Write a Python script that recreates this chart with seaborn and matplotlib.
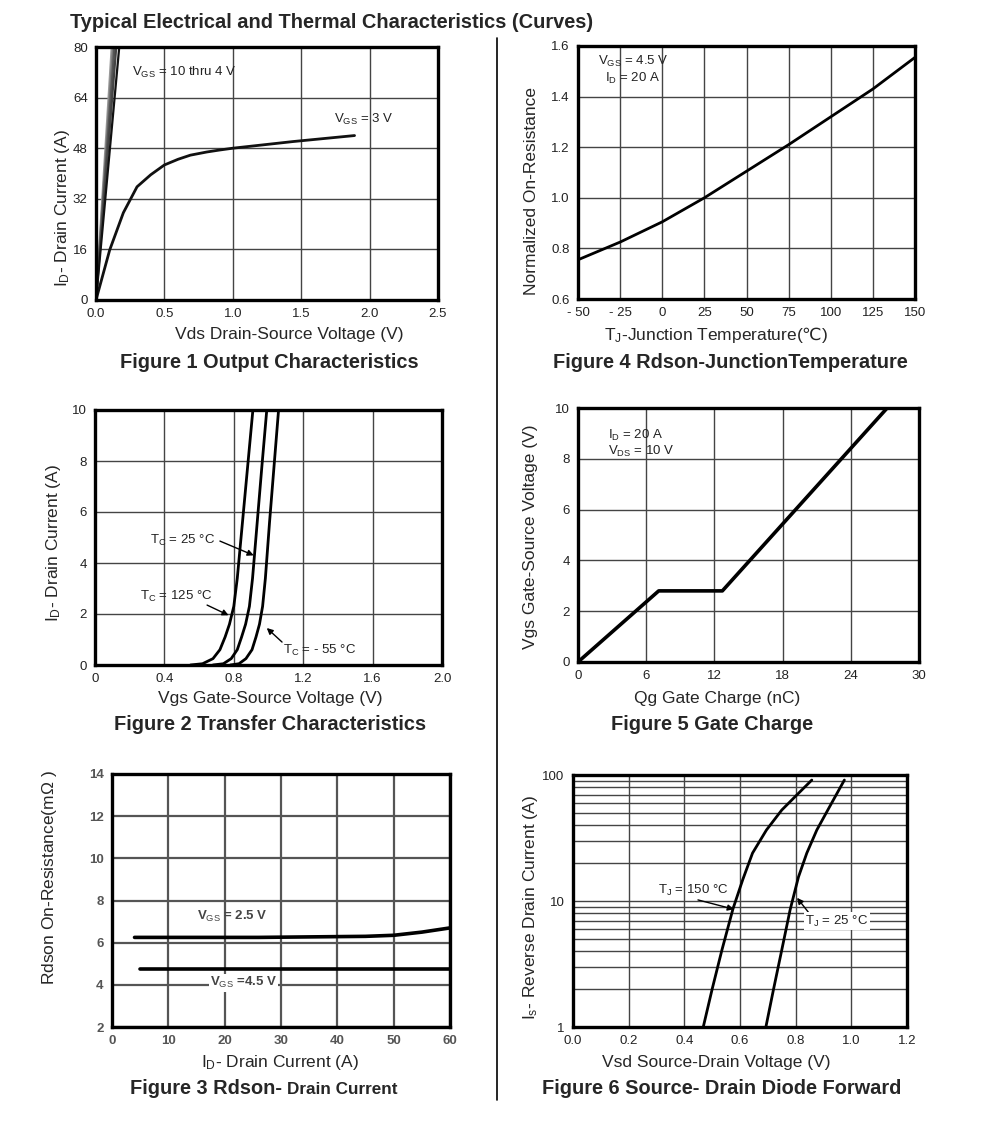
import numpy as np
import pandas as pd
import seaborn as sns
import matplotlib.pyplot as plt
from matplotlib.lines import Line2D
from matplotlib.ticker import FixedLocator, LogLocator, NullFormatter

#_____ data
# fig 1 output characteristics
vds_3v = [0.0, 0.1, 0.2, 0.3, 0.4, 0.5, 0.6, 0.69, 0.81, 0.9, 1.0, 1.44, 1.89]
id_3v = [0.0, 15.8, 27.6, 35.8, 39.6, 42.7, 44.5, 45.8, 46.8, 47.4, 48.0, 50.1, 52.0]
vds_hi_top = [0.115, 0.125, 0.135, 0.148, 0.17]   # vds where VGS 10..4 V lines hit 80 A
id_hi = [0, 80]

# fig 4 rdson vs junction temperature
tj = [-50, -25, 0, 25, 50, 75, 100, 125, 150]
rds_norm = [0.755, 0.825, 0.905, 1.0, 1.105, 1.21, 1.32, 1.43, 1.555]

# fig 2 transfer characteristics
vgs_125 = [0.55, 0.62, 0.68, 0.72, 0.75, 0.775, 0.80, 0.82, 0.85, 0.88, 0.91]
id_125 = [0.0, 0.05, 0.25, 0.6, 1.1, 1.6, 2.3, 3.4, 5.6, 7.8, 10.0]
vgs_25 = [0.68, 0.74, 0.785, 0.82, 0.845, 0.868, 0.89, 0.908, 0.935, 0.962, 0.99]
id_25 = [0.0, 0.05, 0.25, 0.6, 1.1, 1.6, 2.3, 3.4, 5.6, 7.8, 10.0]
vgs_m55 = [0.78, 0.83, 0.87, 0.905, 0.928, 0.948, 0.966, 0.982, 1.006, 1.032, 1.058]
id_m55 = [0.0, 0.05, 0.25, 0.6, 1.1, 1.6, 2.3, 3.4, 5.6, 7.8, 10.0]

# fig 5 gate charge
qg = [0, 7.1, 12.7, 27.2]
vgs_q = [0, 2.8, 2.8, 10]

# fig 3 rdson vs drain current
id_25v = [4, 26, 45, 50, 55, 60]
rds_25v = [6.25, 6.25, 6.3, 6.35, 6.5, 6.7]
id_45v = [5, 60]
rds_45v = [4.75, 4.75]

# fig 6 source-drain diode forward
vsd_150 = [0.468, 0.50, 0.535, 0.575, 0.61, 0.645, 0.695, 0.75, 0.804, 0.858]
is_150 = [1.0, 2.0, 4.08, 8.7, 14.8, 24.0, 36.6, 52.7, 69.4, 91.2]
vsd_25 = [0.693, 0.72, 0.75, 0.78, 0.81, 0.84, 0.876, 0.92, 0.975]
is_25 = [1.0, 1.97, 4.08, 8.5, 15.5, 24.0, 36.6, 55.0, 91.2]

sns.set_style('white')
plt.rcParams['font.family'] = ['Liberation Sans', 'DejaVu Sans']
plt.rcParams['mathtext.fontset'] = 'custom'
plt.rcParams['mathtext.rm'] = 'Liberation Sans'
plt.rcParams['mathtext.it'] = 'Liberation Sans:italic'
plt.rcParams['mathtext.bf'] = 'Liberation Sans:bold'
plt.rcParams['mathtext.sf'] = 'DejaVu Sans'

W, H = 991, 1138
fig = plt.figure(figsize=(W / 100, H / 100), dpi=100)

def box(l, t, r, b):
    return [l / W, 1 - b / H, (r - l) / W, (b - t) / H]

def style(ax, xt, yt, xl, yl, xlab, ylab, xlpos, ylpos, px, grid_c='#444', grid_w=1.0):
    ax.set_xlim(*xl)
    ax.set_ylim(*yl)
    ax.xaxis.set_major_locator(FixedLocator(xt[0]))
    ax.set_xticklabels(xt[1])
    ax.yaxis.set_major_locator(FixedLocator(yt[0]))
    ax.set_yticklabels(yt[1])
    ax.grid(True, which='major', color=grid_c, lw=grid_w)
    ax.tick_params(length=0, pad=6, labelsize=9.5, colors='#222')
    for s in ax.spines.values():
        s.set_color('black')
        s.set_linewidth(2.4)
    l, t, r, b = px
    ax.set_xlabel(xlab, fontsize=12.5, va='center')
    ax.xaxis.set_label_coords((xlpos[0] - l) / (r - l), (b - xlpos[1]) / (b - t))
    ax.set_ylabel(ylab, fontsize=12.5, va='center')
    ax.yaxis.set_label_coords((ylpos[0] - l) / (r - l), (b - ylpos[1]) / (b - t))
    ax.set_axisbelow(True)

arrow = dict(arrowstyle='-|>', color='black', lw=1.0, mutation_scale=9, shrinkA=0, shrinkB=0)
note = dict(fontsize=9.5, va='center', color='#222')

#_____ figure 1
p1 = (96, 47, 438, 300)
ax1 = fig.add_axes(box(*p1))
for xt, c in zip(vds_hi_top, ['#999', '#777', '#555', '#444', '#111']):
    sns.lineplot(x=[0, xt], y=id_hi, ax=ax1, color=c, lw=1.6)
sns.lineplot(x=vds_3v, y=id_3v, ax=ax1, color='#111', lw=2)
style(ax1, ([0, 0.5, 1, 1.5, 2, 2.5], ['0.0', '0.5', '1.0', '1.5', '2.0', '2.5']),
      ([0, 16, 32, 48, 64, 80], ['0', '16', '32', '48', '64', '80']),
      (0, 2.5), (0, 80), 'Vds Drain-Source Voltage (V)', 'I$_\\mathrm{D}$- Drain Current (A)',
      (289, 335), (62, 208), p1)
ax1.text(0.263, 71.8, 'V$_\\mathrm{GS}$ = 10 thru 4 V', **note)
ax1.text(1.74, 57.2, 'V$_\\mathrm{GS}$ = 3 V', **note)

#_____ figure 4
p4 = (578, 46, 915, 299)
ax4 = fig.add_axes(box(*p4))
sns.lineplot(x=tj, y=rds_norm, ax=ax4, color='black', lw=2)
style(ax4, ([-50, -25, 0, 25, 50, 75, 100, 125, 150],
            ['- 50', '- 25', '0', '25', '50', '75', '100', '125', '150']),
      ([0.6, 0.8, 1.0, 1.2, 1.4, 1.6], ['0.6', '0.8', '1.0', '1.2', '1.4', '1.6']),
      (-50, 150), (0.6, 1.6), 'T$_\\mathrm{J}$-Junction Temperature($\\mathsf{℃}$)',
      'Normalized On-Resistance', (716, 335), (531, 191), p4)
ax4.text(-17.4, 1.505, 'V$_\\mathrm{GS}$ = 4.5 V\nI$_\\mathrm{D}$ = 20 A', ha='center',
         multialignment='center', linespacing=1.1, **note)

#_____ figure 2
p2 = (95, 410, 442, 665)
ax2 = fig.add_axes(box(*p2))
for xs, ys in [(vgs_125, id_125), (vgs_25, id_25), (vgs_m55, id_m55)]:
    sns.lineplot(x=xs, y=ys, ax=ax2, color='black', lw=2)
style(ax2, ([0, 0.4, 0.8, 1.2, 1.6, 2.0], ['0', '0.4', '0.8', '1.2', '1.6', '2.0']),
      ([0, 2, 4, 6, 8, 10], ['0', '2', '4', '6', '8', '10']),
      (0, 2.0), (0, 10), 'Vgs Gate-Source Voltage (V)', 'I$_\\mathrm{D}$- Drain Current (A)',
      (270, 698), (54, 543), p2)
ax2.annotate('', xy=(0.915, 4.3), xytext=(0.72, 4.86), arrowprops=arrow)
ax2.text(0.317, 4.9, 'T$_\\mathrm{C}$ = 25 °C', **note)
ax2.annotate('', xy=(0.77, 1.95), xytext=(0.646, 2.35), arrowprops=arrow)
ax2.text(0.259, 2.67, 'T$_\\mathrm{C}$ = 125 °C', **note)
ax2.annotate('', xy=(0.99, 1.45), xytext=(1.078, 0.9), arrowprops=arrow)
ax2.text(1.084, 0.59, 'T$_\\mathrm{C}$ = - 55 °C', **note)

#_____ figure 5
p5 = (578, 408, 919, 662)
ax5 = fig.add_axes(box(*p5))
sns.lineplot(x=qg, y=vgs_q, ax=ax5, color='black', lw=2.6)
style(ax5, ([0, 6, 12, 18, 24, 30], ['0', '6', '12', '18', '24', '30']),
      ([0, 2, 4, 6, 8, 10], ['0', '2', '4', '6', '8', '10']),
      (0, 30), (0, 10), 'Qg Gate Charge (nC)', 'Vgs Gate-Source Voltage (V)',
      (717, 698), (531, 537), p5)
ax5.text(2.64, 8.62, 'I$_\\mathrm{D}$ = 20 A\nV$_\\mathrm{DS}$ = 10 V', linespacing=1.1, **note)

#_____ figure 3
p3 = (112, 774, 450, 1027)
ax3 = fig.add_axes(box(*p3))
sns.lineplot(x=id_25v, y=rds_25v, ax=ax3, color='black', lw=2.6)
sns.lineplot(x=id_45v, y=rds_45v, ax=ax3, color='black', lw=2.6)
style(ax3, ([0, 10, 20, 30, 40, 50, 60], ['0', '10', '20', '30', '40', '50', '60']),
      ([2, 4, 6, 8, 10, 12, 14], ['2', '4', '6', '8', '10', '12', '14']),
      (0, 60), (2, 14), 'I$_\\mathrm{D}$- Drain Current (A)', 'Rdson On-Resistance(m$\\Omega$ )',
      (280, 1062), (50, 878), p3, grid_c='#555', grid_w=1.6)
ax3.tick_params(labelcolor='#555')
for lab in ax3.get_xticklabels() + ax3.get_yticklabels():
    lab.set_fontweight('bold')
ax3.text(15.1, 7.26, 'V$_\\mathrm{GS}$ = 2.5 V', fontsize=9.5, va='center', color='#444', fontweight='bold')
ax3.text(17.4, 4.09, 'V$_\\mathrm{GS}$ =4.5 V', fontsize=9.5, va='center', color='#444', fontweight='bold',
         bbox=dict(facecolor='white', edgecolor='none', pad=1))

#_____ figure 6
p6 = (573, 775, 907, 1027)
ax6 = fig.add_axes(box(*p6))
ax6.set_yscale('log')
sns.lineplot(x=vsd_150, y=is_150, ax=ax6, color='black', lw=2)
sns.lineplot(x=vsd_25, y=is_25, ax=ax6, color='black', lw=2)
style(ax6, ([0, 0.2, 0.4, 0.6, 0.8, 1.0, 1.2], ['0.0', '0.2', '0.4', '0.6', '0.8', '1.0', '1.2']),
      ([1, 10, 100], ['1', '10', '100']),
      (0, 1.2), (1, 100), 'Vsd Source-Drain Voltage (V)', 'I$_\\mathrm{s}$- Reverse Drain Current (A)',
      (716, 1062), (530, 908), p6)
ax6.yaxis.set_minor_locator(LogLocator(base=10, subs=np.arange(2, 10)))
ax6.yaxis.set_minor_formatter(NullFormatter())
ax6.tick_params(which='minor', length=0)
ax6.grid(True, which='minor', axis='y', color='#444', lw=1.0)
ax6.annotate('', xy=(0.578, 8.6), xytext=(0.449, 10.2), arrowprops=arrow)
ax6.text(0.305, 12.2, 'T$_\\mathrm{J}$ = 150 °C', **note)
ax6.annotate('', xy=(0.805, 10.6), xytext=(0.859, 7.47), arrowprops=arrow)
ax6.text(0.834, 6.94, 'T$_\\mathrm{J}$ = 25 °C', bbox=dict(facecolor='white', edgecolor='none', pad=1), **note)

#_____ captions and title
fig.text(70 / W, 1 - 22 / H, 'Typical Electrical and Thermal Characteristics (Curves)',
         fontsize=14.4, fontweight='bold', va='center', ha='left')
cap = dict(fontsize=14.4, fontweight='bold', va='center', ha='center')
fig.text(269 / W, 1 - 362 / H, 'Figure 1 Output Characteristics', **cap)
fig.text(730 / W, 1 - 362 / H, 'Figure 4 Rdson-JunctionTemperature', **cap)
fig.text(270 / W, 1 - 724 / H, 'Figure 2 Transfer Characteristics', **cap)
fig.text(712 / W, 1 - 724 / H, 'Figure 5 Gate Charge', **cap)
fig.text(130 / W, 1 - 1088 / H, 'Figure 3 Rdson-', fontsize=14.4, fontweight='bold', va='center', ha='left')
fig.text(287 / W, 1 - 1089 / H, 'Drain Current', fontsize=12.3, fontweight='bold', va='center', ha='left')
fig.text(722 / W, 1 - 1088 / H, 'Figure 6 Source- Drain Diode Forward', **cap)

fig.add_artist(Line2D([497 / W, 497 / W], [1 - 38 / H, 1 - 1100 / H], color='black', lw=1.2))

fig.savefig('out.png', dpi=100)
